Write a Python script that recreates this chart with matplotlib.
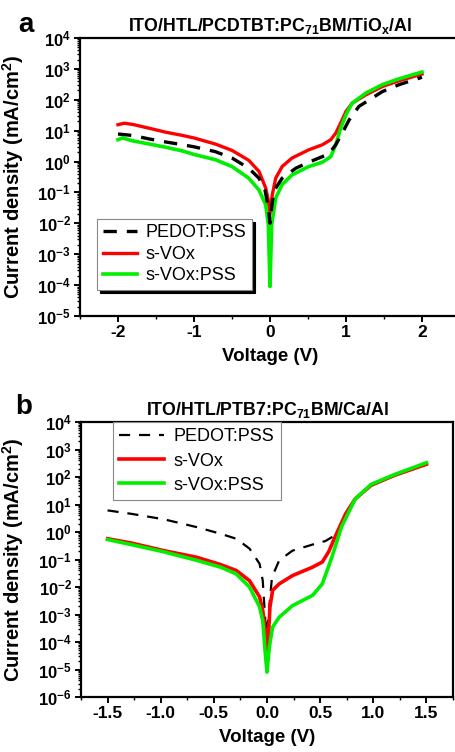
import numpy as np
import matplotlib
matplotlib.use('Agg')
import matplotlib.pyplot as plt
from matplotlib.ticker import LogLocator, MultipleLocator, NullFormatter, FixedLocator

plt.rcParams['font.family'] = ['Liberation Sans', 'DejaVu Sans']
plt.rcParams['mathtext.fontset'] = 'custom'
plt.rcParams['mathtext.rm'] = 'Liberation Sans:bold'
plt.rcParams['mathtext.bf'] = 'Liberation Sans:bold'
plt.rcParams['mathtext.it'] = 'Liberation Sans:bold'
plt.rcParams['mathtext.default'] = 'bf'
plt.rcParams['axes.unicode_minus'] = False

# ---------------- data: panel a ----------------
black_a_v = [-2.0, -1.81, -1.59, -1.37, -1.15, -1.0, -0.72, -0.5, -0.28, -0.145, -0.066, -0.02, 0.0,
             0.02, 0.05, 0.16, 0.34, 0.51, 0.69, 0.78, 0.865, 0.95, 1.04, 1.17, 1.48, 1.70, 2.0]
black_a_j = [7.8, 7.0, 5.4, 4.3, 3.5, 3.0, 2.1, 1.3, 0.61, 0.29, 0.12, 0.03, 0.01,
             0.03, 0.11, 0.29, 0.61, 0.95, 1.45, 1.85, 3.5, 8.3, 22, 61, 185, 310, 535]

red_a_v = [-2.0, -1.92, -1.81, -1.59, -1.37, -1.15, -1.0, -0.72, -0.5, -0.28, -0.145, -0.057, -0.025, 0.0,
           0.03, 0.075, 0.16, 0.29, 0.51, 0.69, 0.8, 0.865, 0.93, 1.0, 1.08, 1.26, 1.48, 1.70, 2.0]
red_a_j = [15.6, 17.4, 16, 12, 8.9, 7.0, 5.8, 3.7, 2.3, 1.1, 0.48, 0.14, 0.06, 0.02,
           0.083, 0.29, 0.69, 1.3, 2.4, 3.5, 5.1, 8.3, 17.7, 42, 77, 144, 270, 413, 680]

green_a_v = [-2.0, -1.94, -1.81, -1.59, -1.37, -1.15, -1.0, -0.72, -0.5, -0.28, -0.145, -0.057, -0.022, 0.0,
             0.022, 0.075, 0.16, 0.29, 0.51, 0.69, 0.8, 0.865, 0.93, 1.0, 1.08, 1.26, 1.48, 1.70, 2.0]
green_a_j = [5.1, 5.8, 4.7, 3.7, 2.9, 2.2, 1.7, 1.15, 0.69, 0.29, 0.12, 0.04, 0.009, 9e-5,
             0.009, 0.066, 0.18, 0.37, 0.69, 0.95, 1.45, 3.5, 12, 33, 77, 165, 310, 480, 790]

# ---------------- data: panel b ----------------
black_b_v = [-1.5, -1.28, -0.97, -0.66, -0.44, -0.29, -0.165, -0.07, -0.04, -0.016, 0.0,
             0.022, 0.047, 0.115, 0.24, 0.43, 0.55, 0.64, 0.70, 0.74, 0.83, 0.98, 1.2, 1.5]
black_b_j = [6.1, 4.6, 2.9, 1.5, 0.87, 0.57, 0.25, 0.07, 0.017, 6e-4, 2e-4,
             0.002, 0.023, 0.093, 0.21, 0.35, 0.47, 0.76, 1.5, 4.6, 16, 50, 115, 300]

red_b_v = [-1.5, -1.28, -0.97, -0.66, -0.44, -0.29, -0.165, -0.07, -0.04, -0.01, 0.006,
           0.028, 0.053, 0.115, 0.24, 0.43, 0.52, 0.58, 0.64, 0.74, 0.83, 0.98, 1.2, 1.5]
red_b_j = [0.57, 0.4, 0.21, 0.12, 0.066, 0.04, 0.017, 0.0044, 0.0014, 1.5e-4, 5e-5,
           0.0019, 0.0076, 0.013, 0.026, 0.053, 0.081, 0.19, 0.66, 4.6, 16, 50, 115, 290]

green_b_v = [-1.5, -1.28, -0.97, -0.66, -0.44, -0.29, -0.165, -0.07, -0.04, -0.016, 0.0,
             0.022, 0.053, 0.115, 0.24, 0.43, 0.52, 0.61, 0.70, 0.83, 0.98, 1.2, 1.5]
green_b_j = [0.53, 0.35, 0.19, 0.093, 0.053, 0.03, 0.01, 0.0019, 6e-4, 3.8e-5, 8e-6,
             6.6e-5, 3.5e-4, 8e-4, 0.0021, 0.005, 0.013, 0.12, 1.5, 16, 54, 123, 330]

labels = ['PEDOT:PSS', 's-VOx', 's-VOx:PSS']
title_a = 'ITO/HTL/PCDTBT:PC$_{71}$BM/TiO$_x$/Al'
title_b = 'ITO/HTL/PTB7:PC$_{71}$BM/Ca/Al'
xticks_a = [-2, -1, 0, 1, 2]
xticks_b = [-1.5, -1.0, -0.5, 0.0, 0.5, 1.0, 1.5]

W, H = 455, 752
fig = plt.figure(figsize=(W / 100, H / 100), dpi=100)

def px_axes(l, t, r, b):
    return fig.add_axes([l / W, 1 - b / H, (r - l) / W, (b - t) / H])

ax1 = px_axes(80, 38, 460, 316)
ax2 = px_axes(81, 422, 453, 697)

RED = '#ff0000'
GREEN = '#00ee00'

def style(ax, ylo, yhi, xlo, xhi, xmaj, xmin, xfmt):
    ax.set_yscale('log')
    ax.set_ylim(10.0 ** ylo, 10.0 ** yhi)
    ax.set_xlim(xlo, xhi)
    ax.yaxis.set_major_locator(FixedLocator([10.0 ** k for k in range(ylo, yhi + 1)]))
    ax.yaxis.set_minor_locator(LogLocator(base=10, subs=np.arange(2, 10), numticks=50))
    ax.yaxis.set_minor_formatter(NullFormatter())
    ax.set_yticklabels(['$10^{%d}$' % k for k in range(ylo, yhi + 1)])
    ax.set_xticks(xmaj)
    ax.set_xticklabels([xfmt % v for v in xmaj])
    ax.xaxis.set_minor_locator(MultipleLocator(xmin))
    for s in ax.spines.values():
        s.set_linewidth(1.6)
    ax.tick_params(which='major', direction='out', length=4.5, width=1.4, labelsize=12.5, pad=2)
    ax.tick_params(which='minor', direction='out', length=2.5, width=1.0)
    ax.tick_params(axis='y', which='both', labelsize=12)
    for lab in ax.get_xticklabels() + ax.get_yticklabels():
        lab.set_fontweight('bold')
    ax.set_xlabel('Voltage (V)', fontsize=13.5, fontweight='bold', labelpad=6)
    ax.set_ylabel('Current density (mA/cm$^2$)', fontsize=14.5, fontweight='bold')

# panel a
ax1.plot(black_a_v, black_a_j, color='black', lw=2.4, ls=(0, (4, 3)), label=labels[0], zorder=3)
ax1.plot(red_a_v, red_a_j, color=RED, lw=2.4, label=labels[1], zorder=2)
ax1.plot(green_a_v, green_a_j, color=GREEN, lw=2.6, label=labels[2], zorder=2.5)
style(ax1, -5, 4, -2.5, 2.5, xticks_a, 0.5, '%d')
ax1.set_title(title_a, fontsize=12.8, fontweight='bold', pad=5)
ax1.yaxis.set_label_coords((26 - 80) / 380, 0.5)
handles, labs = ax1.get_legend_handles_labels()
leg1 = ax1.legend(handles, labs, loc='lower left', bbox_to_anchor=(0.045, 0.094), borderaxespad=0,
                  fontsize=13, handlelength=1.9, handletextpad=0.5, labelspacing=0.25,
                  borderpad=0.3, fancybox=False, edgecolor='#888888', framealpha=1,
                  shadow={'color': 'black', 'alpha': 1})
leg1.get_frame().set_linewidth(0.8)

# panel b
ax2.plot(black_b_v, black_b_j, color='black', lw=1.6, ls=(0, (5, 4)), label=labels[0], zorder=2)
ax2.plot(red_b_v, red_b_j, color=RED, lw=2.6, label=labels[1], zorder=2.3)
ax2.plot(green_b_v, green_b_j, color=GREEN, lw=2.6, label=labels[2], zorder=2.5)
style(ax2, -6, 4, -1.75, 1.75, xticks_b, 0.25, '%.1f')
ax2.set_title(title_b, fontsize=12.8, fontweight='bold', pad=5)
ax2.yaxis.set_label_coords((26 - 81) / 372, 0.5)
leg2 = ax2.legend(loc='upper left', bbox_to_anchor=(0.086, 1.0), borderaxespad=0,
                  fontsize=13, handlelength=2.5, handletextpad=0.5, labelspacing=0.4,
                  borderpad=0.35, fancybox=False, edgecolor='#888888', framealpha=1)
leg2.get_frame().set_linewidth(0.8)

fig.text(26 / W, 1 - 25 / H, 'a', fontsize=20, fontweight='bold', ha='center', va='center')
fig.text(24 / W, 1 - 407 / H, 'b', fontsize=20, fontweight='bold', ha='center', va='center')

fig.savefig('out.png', dpi=100)
